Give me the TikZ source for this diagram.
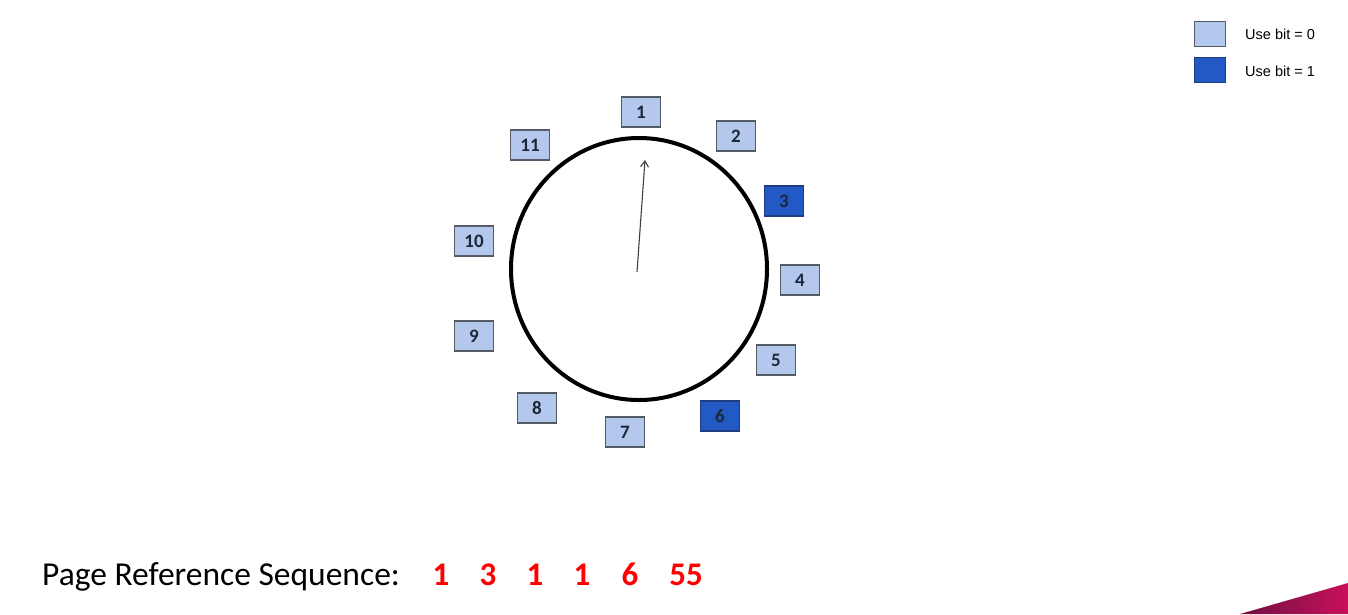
\documentclass[tikz,border=0pt]{standalone}
\usepackage{fontspec}
\setmainfont{Carlito}
\newfontfamily\arialfont{Liberation Sans}
\usetikzlibrary{arrows.meta,shapes.geometric}
\definecolor{lightbox}{HTML}{B4C8EE}
\definecolor{darkbox}{HTML}{2259C4}
\definecolor{boxedge}{HTML}{555A66}
\definecolor{darkedge}{HTML}{1E3C80}
\definecolor{refred}{HTML}{FF0000}
\definecolor{numtext}{HTML}{1C2838}
\definecolor{accentA}{HTML}{6E1040}
\definecolor{accentB}{HTML}{C8105C}
\begin{document}
\begin{tikzpicture}[x=1pt,y=-1pt,
  page/.style={draw=boxedge,line width=1.3pt,fill=lightbox,minimum width=39pt,minimum height=30pt,inner sep=0pt,font=\fontsize{19}{19}\selectfont\bfseries,text=numtext},
  used/.style={page,fill=darkbox,draw=darkedge},
  legbox/.style={draw=boxedge,line width=1.3pt,fill=lightbox,minimum width=31pt,minimum height=25pt,inner sep=0pt},
  legtext/.style={anchor=west,font=\arialfont\fontsize{14.5}{14.5}\selectfont,inner sep=0pt},
  seqnum/.style={anchor=base,text=refred,font=\fontsize{33}{33}\selectfont\bfseries,inner sep=0pt}
]
\useasboundingbox (0,0) rectangle (1348,614);
\fill[white] (0,0) rectangle (1348,614);

% clock ring
\node[draw=black,line width=4pt,ellipse,minimum width=256pt,minimum height=262pt,inner sep=0pt] (ring) at (639,269) {};

% pages
\node[page] (p1) at (641,112) {1};
\node[page] (p2) at (736,136) {2};
\node[used] (p3) at (784,201) {3};
\node[page] (p4) at (800,280) {4};
\node[page] (p5) at (776,360) {5};
\node[used] (p6) at (720,416) {6};
\node[page] (p7) at (625,432) {7};
\node[page] (p8) at (537,408) {8};
\node[page] (p9) at (474,336) {9};
\node[page] (p10) at (474,241) {10};
\node[page] (p11) at (530,145) {11};

% hand
\coordinate (hub) at (637,272);
\coordinate (tip) at (645,160);
\draw[black!75,line width=1.1pt,-{Straight Barb[length=6pt,width=8pt]}] (hub) -- (tip);

% legend
\node[legbox] (l0) at (1210,34) {};
\node[legbox,fill=darkbox,draw=darkedge] (l1) at (1210,70) {};
\node[legtext] (t0) at (1245,34) {Use bit = 0};
\node[legtext] (t1) at (1245,71) {Use bit = 1};

% sequence
\node[anchor=base west,inner sep=0pt,font=\fontsize{33.5}{33.5}\selectfont] (seq) at (42,585) {Page Reference Sequence:};
\node[seqnum] (s1) at (441,585) {1};
\node[seqnum] (s2) at (488,585) {3};
\node[seqnum] (s3) at (535,585) {1};
\node[seqnum] (s4) at (582,585) {1};
\node[seqnum] (s5) at (630,585) {6};
\node[seqnum] (s6) at (686,585) {55};

% corner accent
\shade[left color=accentA,right color=accentB] (1240,614) -- (1348,583) -- (1348,614) -- cycle;
\end{tikzpicture}
\end{document}
